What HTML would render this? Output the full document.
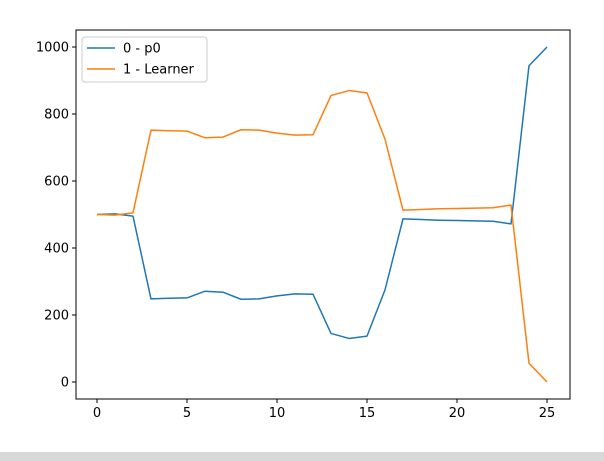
<!DOCTYPE html>
<html><head><meta charset="utf-8"><style>
body{margin:0;background:#fff;font-family:"Liberation Sans","DejaVu Sans",sans-serif}
svg{display:block}
text{font-family:"DejaVu Sans","Liberation Sans",sans-serif;font-size:13px;fill:#000}
</style></head><body>
<svg width="604" height="461">
<rect x="0" y="452" width="604" height="9" fill="#d9d9d9"/>
<g id="plot"></g>
</svg>
<script>
const xs=[0,1,2,3,4,5,6,7,8,9,10,11,12,13,14,15,16,17,18,19,20,21,22,23,24,25];
const p0=[500,502,495,248,250,251,271,268,247,248,257,263,262,145,130,137,275,487,485,483,482,481,480,472,944,1000];
const learner=[500,498,505,752,750,749,729,731,753,752,743,737,738,855,870,863,725,513,515,517,518,519,520,528,56,0];
const xTicks=[0,5,10,15,20,25];
const yTicks=[0,200,400,600,800,1000];
const L=76,R=570,T=30,B=399;
const X=v=>97+v*18;
const Y=v=>382-v*0.335;
const ns="http://www.w3.org/2000/svg";
const g=document.getElementById('plot');
function mk(t,a){const e=document.createElementNS(ns,t);for(const k in a)e.setAttribute(k,a[k]);g.appendChild(e);return e;}
xTicks.forEach(v=>{
 const l=mk('line',{x1:X(v),x2:X(v),y1:B,y2:B+4,stroke:'#000'});
 
 
 const t=mk('text',{x:X(v),y:B+18,'text-anchor':'middle'});t.textContent=v;
 
 
});
yTicks.forEach(v=>{
 const l=mk('line',{x1:L-4,x2:L,y1:Y(v),y2:Y(v),stroke:'#000'});
 
 
 const t=mk('text',{x:L-7,y:Y(v)+4.5,'text-anchor':'end'});t.textContent=v;
 
 
});
function line(d,c,name){
 const p=mk('polyline',{points:xs.map((x,i)=>X(x)+','+Y(d[i])).join(' '),fill:'none',stroke:c,'stroke-width':1.5,'stroke-linejoin':'round'});
 
 
}
line(p0,'#1f77b4','series-p0');
line(learner,'#ff7f0e','series-learner');
const fr=mk('rect',{x:L,y:T,width:R-L,height:B-T,fill:'none',stroke:'#000','stroke-width':1});


const lg=mk('rect',{x:82,y:37,width:125,height:45,rx:3,fill:'#fff','fill-opacity':0.8,stroke:'#ccc'});


[['0 - p0','#1f77b4',48],['1 - Learner','#ff7f0e',69]].forEach(([s,c,y])=>{
 const l=mk('line',{x1:87,x2:115,y1:y,y2:y,stroke:c,'stroke-width':1.5});
 
 
 const t=mk('text',{x:123,y:y+4.5});t.textContent=s;
 
 
});
</script>
</body></html>
